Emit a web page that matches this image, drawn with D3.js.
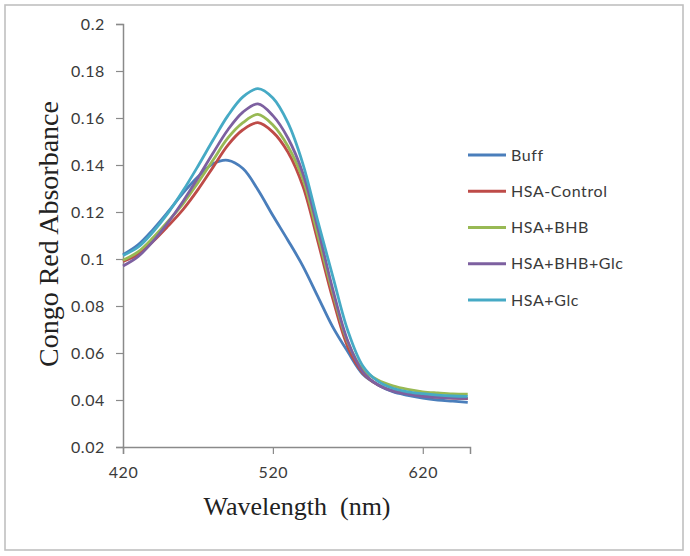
<!DOCTYPE html>
<html>
<head>
<meta charset="utf-8">
<script src="https://cdn.jsdelivr.net/npm/d3@7"></script>
<style>
  html, body { margin: 0; padding: 0; background: #fff; }
  svg { display: block; }
</style>
</head>
<body>
<svg id="chart" width="690" height="556"></svg>
<script>
// wavelengths (nm) sampled every 10 nm
const wavelengths = [420, 430, 440, 450, 460, 470, 480, 490, 500, 510, 520, 530,
                     540, 550, 560, 570, 580, 590, 600, 610, 620, 630, 640, 650];

const buff       = [0.1018, 0.1060, 0.1125, 0.1200, 0.1280, 0.1350, 0.1405, 0.1420, 0.1385, 0.1295, 0.1185, 0.1080,
                    0.0970, 0.0840, 0.0710, 0.0605, 0.0510, 0.0465, 0.0435, 0.0420, 0.0408, 0.0400, 0.0395, 0.0390];
const hsaControl = [0.0990, 0.1020, 0.1075, 0.1140, 0.1210, 0.1295, 0.1390, 0.1485, 0.1550, 0.1580, 0.1540, 0.1455,
                    0.1310, 0.1075, 0.0830, 0.0625, 0.0515, 0.0465, 0.0440, 0.0428, 0.0418, 0.0412, 0.0408, 0.0406];
const hsaBhb     = [0.0995, 0.1030, 0.1090, 0.1160, 0.1235, 0.1325, 0.1420, 0.1515, 0.1580, 0.1615, 0.1570, 0.1480,
                    0.1340, 0.1100, 0.0855, 0.0645, 0.0530, 0.0485, 0.0460, 0.0445, 0.0435, 0.0430, 0.0426, 0.0425];
const hsaBhbGlc  = [0.0970, 0.1010, 0.1075, 0.1155, 0.1245, 0.1345, 0.1450, 0.1550, 0.1625, 0.1660, 0.1610, 0.1515,
                    0.1365, 0.1130, 0.0870, 0.0650, 0.0520, 0.0465, 0.0438, 0.0425, 0.0416, 0.0411, 0.0408, 0.0407];
const hsaGlc     = [0.1015, 0.1050, 0.1115, 0.1195, 0.1290, 0.1395, 0.1505, 0.1610, 0.1690, 0.1725, 0.1685, 0.1580,
                    0.1405, 0.1160, 0.0925, 0.0695, 0.0545, 0.0480, 0.0450, 0.0435, 0.0427, 0.0421, 0.0417, 0.0415];

const seriesNames = ['Buff', 'HSA-Control', 'HSA+BHB', 'HSA+BHB+Glc', 'HSA+Glc'];
const seriesValues = [buff, hsaControl, hsaBhb, hsaBhbGlc, hsaGlc];
const colors = ['#4a7ebb', '#be4b48', '#98b954', '#7d60a0', '#46aac5'];

const xTicks = [420, 520, 620];
const yTicks = [0.02, 0.04, 0.06, 0.08, 0.1, 0.12, 0.14, 0.16, 0.18, 0.2];
const yTickLabels = ['0.02', '0.04', '0.06', '0.08', '0.1', '0.12', '0.14', '0.16', '0.18', '0.2'];

const svg = d3.select('#chart');

// outer frame
svg.append('rect').attr('x', 5).attr('y', 5).attr('width', 678).attr('height', 545)
  .attr('fill', '#fff').attr('stroke', '#c0c0c0').attr('stroke-width', 1.6);

const x = d3.scaleLinear().domain([420, 651.5]).range([123, 470]);
const y = d3.scaleLinear().domain([0.02, 0.2]).range([447, 24]);

const axisColor = '#8a8a8a';
const tickFont = 'Lato, "Open Sans", sans-serif';

const yAxis = svg.append('g').attr('transform', 'translate(123,0)')
  .call(d3.axisLeft(y).tickValues(yTicks).tickSize(7).tickPadding(11)
    .tickFormat((d, i) => yTickLabels[i]));
const xAxis = svg.append('g').attr('transform', 'translate(0,447)')
  .call(d3.axisBottom(x).tickValues(xTicks).tickSize(7).tickPadding(13).tickFormat(d3.format('d')));

[xAxis, yAxis].forEach(g => {
  g.select('.domain').attr('stroke', axisColor).attr('stroke-width', 1.5);
  g.selectAll('.tick line').attr('stroke', axisColor).attr('stroke-width', 1.2);
  g.selectAll('.tick text').attr('fill', '#3a3a3a').attr('font-family', tickFont)
    .attr('font-size', 16).attr('letter-spacing', 0.6);
});

// curves
const line = d3.line().curve(d3.curveCatmullRom.alpha(0.5))
  .x((d, i) => x(wavelengths[i])).y(d => y(d));

svg.append('g').selectAll('path').data(seriesValues).enter().append('path')
  .attr('d', d => line(d)).attr('fill', 'none')
  .attr('stroke', (d, i) => colors[i]).attr('stroke-width', 2.8)
  .attr('stroke-linejoin', 'round');

// legend
const legend = svg.append('g');
const rowY = d3.scaleLinear().domain([0, 4]).range([155, 300]);
seriesNames.forEach((name, i) => {
  legend.append('line').attr('x1', 468).attr('x2', 506).attr('y1', rowY(i)).attr('y2', rowY(i))
    .attr('stroke', colors[i]).attr('stroke-width', 2.8);
  legend.append('text').attr('x', 511).attr('y', rowY(i)).attr('dy', '0.35em')
    .attr('font-family', tickFont).attr('font-size', 16).attr('letter-spacing', 0.6)
    .attr('fill', '#3a3a3a').text(name);
});

// axis titles
svg.append('text').attr('x', 297).attr('y', 515).attr('text-anchor', 'middle')
  .attr('font-family', '"Liberation Serif", "Times New Roman", serif').attr('font-size', 26)
  .attr('fill', '#222').attr('xml:space', 'preserve').text('Wavelength  (nm)');

svg.append('text').attr('transform', 'translate(58,234) rotate(-90)').attr('text-anchor', 'middle')
  .attr('font-family', '"Liberation Serif", "Times New Roman", serif').attr('font-size', 28)
  .attr('fill', '#222').text('Congo Red Absorbance');
</script>
</body>
</html>
